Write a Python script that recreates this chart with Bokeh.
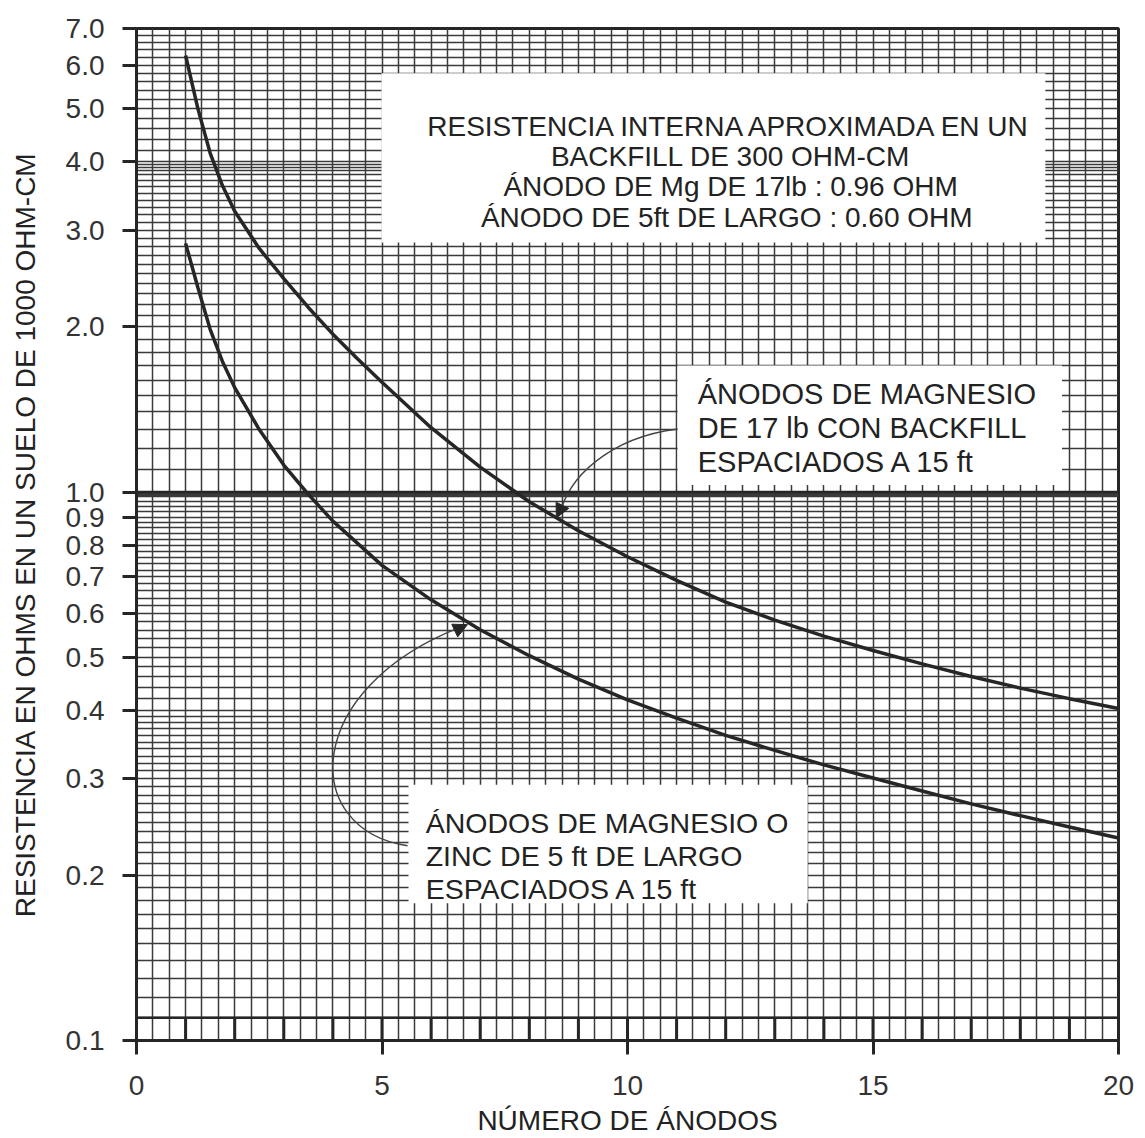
import numpy as np
from bokeh.plotting import figure
from bokeh.models import (Range1d, FixedTicker, PrintfTickFormatter, BoxAnnotation,
                          Label, Arrow, NormalHead, Span)
from bokeh.embed import file_html
from bokeh.resources import INLINE

# ---------------- data ----------------
n_upper = [1, 1.25, 1.5, 1.75, 2, 2.5, 3, 3.5, 4, 4.5, 5, 6, 7, 8, 9, 10, 11, 12, 13,
           14, 15, 16, 17, 18, 19, 20]
r_mg17_backfill = [6.25, 5.0, 4.15, 3.62, 3.25, 2.78, 2.45, 2.17, 1.94, 1.75, 1.585, 1.31,
                   1.11, 0.96, 0.85, 0.762, 0.69, 0.63, 0.584, 0.546, 0.514, 0.486, 0.461,
                   0.439, 0.42, 0.403]
n_lower = [1, 1.25, 1.5, 1.75, 2, 2.5, 3, 3.5, 4, 5, 6, 7, 8, 9, 10, 11, 12, 13, 14, 15,
           16, 17, 18, 19, 20]
r_5ft_long = [2.84, 2.36, 1.98, 1.73, 1.55, 1.30, 1.12, 0.99, 0.885, 0.735, 0.636, 0.561,
              0.503, 0.456, 0.418, 0.387, 0.36, 0.338, 0.318, 0.301, 0.285, 0.27, 0.257,
              0.245, 0.234]

x_ticks = [0, 5, 10, 15, 20]
y_ticks = [0.1, 0.2, 0.3, 0.4, 0.5, 0.6, 0.7, 0.8, 0.9, 1.0, 2.0, 3.0, 4.0, 5.0, 6.0, 7.0]

FONT = "Liberation Sans"
INK = "#262626"
GRID = "#3a3a3a"

p = figure(width=1145, height=1138, output_backend="svg", toolbar_location=None,
           y_axis_type="log", x_range=Range1d(0, 20), y_range=Range1d(0.1, 7.0),
           min_border_left=136, min_border_right=27, min_border_top=28, min_border_bottom=97)
p.background_fill_color = "white"
p.outline_line_color = INK
p.outline_line_width = 3

# graph-paper grid
xg = [round(i / 3.0, 4) for i in range(61)]
yg = ([round(0.11 + 0.01 * i, 3) for i in range(30)] +
      [round(0.40 + 0.02 * i, 3) for i in range(30)] +
      [0.985, 0.99, 0.995] +
      [round(1.0 + 0.1 * i, 2) for i in range(30)] +
      [round(4.0 + 0.2 * i, 2) for i in range(16)] + [3.95, 3.85])
p.xgrid.ticker = FixedTicker(ticks=xg)
p.ygrid.ticker = FixedTicker(ticks=yg)
p.xgrid.grid_line_color = GRID
p.ygrid.grid_line_color = GRID
p.xgrid.grid_line_width = 1.5
p.ygrid.grid_line_width = 1.5

# heavier strip lines at bottom and at 1.0
p.add_layout(Span(location=0.11, dimension="width", line_color=INK, line_width=2.5))
p.add_layout(Span(location=1.0, dimension="width", line_color=INK, line_width=2.5))
p.segment(x0=list(range(1, 20)), x1=list(range(1, 20)), y0=[0.1] * 19, y1=[0.11] * 19,
          line_color=INK, line_width=3)

# axes
for ax in (p.xaxis[0], p.yaxis[0]):
    ax.axis_line_width = 3
    ax.axis_line_color = INK
    ax.major_tick_line_width = 3
    ax.major_tick_line_color = INK
    ax.major_tick_out = 14
    ax.major_tick_in = 0
    ax.minor_tick_line_color = None
    ax.major_label_text_font = FONT
    ax.major_label_text_color = "#333333"
    ax.axis_label_text_font = FONT
    ax.axis_label_text_font_style = "normal"
    ax.axis_label_text_color = "#222222"

p.xaxis.ticker = FixedTicker(ticks=x_ticks)
p.yaxis.ticker = FixedTicker(ticks=y_ticks)
p.yaxis.formatter = PrintfTickFormatter(format="%.1f")
p.xaxis.major_label_text_font_size = "28px"
p.yaxis.major_label_text_font_size = "28px"
p.xaxis.major_label_standoff = 21
p.yaxis.major_label_standoff = 18
p.xaxis.axis_label = "NÚMERO DE ÁNODOS"
p.yaxis.axis_label = "RESISTENCIA EN OHMS EN UN SUELO DE 1000 OHM-CM"
p.xaxis.axis_label_text_font_size = "28px"
p.yaxis.axis_label_text_font_size = "28px"
p.xaxis.axis_label_standoff = 7
p.yaxis.axis_label_standoff = 22

# curves
p.line(n_upper, r_mg17_backfill, line_color=INK, line_width=3.5)
p.line(n_lower, r_5ft_long, line_color=INK, line_width=3.5)

# white boxes
for l, r, b, t in [(4.99, 18.51, 2.85, 5.80), (11.02, 18.85, 1.03, 1.70), (5.54, 13.67, 0.178, 0.2926)]:
    p.add_layout(BoxAnnotation(left=l, right=r, bottom=b, top=t, fill_color="white",
                               fill_alpha=1.0, line_alpha=0))

box1 = ["RESISTENCIA INTERNA APROXIMADA EN UN", "BACKFILL DE 300 OHM-CM",
        "ÁNODO DE Mg DE 17lb : 0.96 OHM", "ÁNODO DE  5ft DE LARGO : 0.60 OHM"]
for txt, yy in zip(box1, [4.64, 4.09, 3.61, 3.16]):
    p.add_layout(Label(x=12.1, y=yy, text=txt, text_align="center", text_baseline="middle",
                       text_font=FONT, text_font_size="28px", text_color="#222222"))

box2 = ["ÁNODOS DE MAGNESIO", "DE 17 lb CON BACKFILL", "ESPACIADOS A 15 ft"]
for txt, yy in zip(box2, [1.51, 1.31, 1.135]):
    p.add_layout(Label(x=11.43, y=yy, text=txt, text_align="left", text_baseline="middle",
                       text_font=FONT, text_font_size="29px", text_color="#222222"))

box3 = ["ÁNODOS DE MAGNESIO O", "ZINC DE 5 ft DE LARGO", "ESPACIADOS A 15 ft"]
for txt, yy in zip(box3, [0.2495, 0.217, 0.189]):
    p.add_layout(Label(x=5.89, y=yy, text=txt, text_align="left", text_baseline="middle",
                       text_font=FONT, text_font_size="28.5px", text_color="#222222"))

# curved leader arrows
p.bezier(x0=[11.28], y0=[1.308], x1=[8.62], y1=[0.91], cx0=[9.86], cy0=[1.286],
         cx1=[8.84], cy1=[1.097], line_color="#444444", line_width=1.4)
p.add_layout(Arrow(end=NormalHead(size=14, fill_color=INK, line_color=INK),
                   x_start=8.66, y_start=0.94, x_end=8.55, y_end=0.897, line_alpha=0))
p.bezier(x0=[5.52], y0=[0.2265], x1=[6.6], y1=[0.567], cx0=[3.34], cy0=[0.2422],
         cx1=[3.34], cy1=[0.436], line_color="#444444", line_width=1.4)
p.add_layout(Arrow(end=NormalHead(size=14, fill_color=INK, line_color=INK),
                   x_start=6.5, y_start=0.56, x_end=6.74, y_end=0.573, line_alpha=0))

open("out.html", "w").write(file_html(p, INLINE))
